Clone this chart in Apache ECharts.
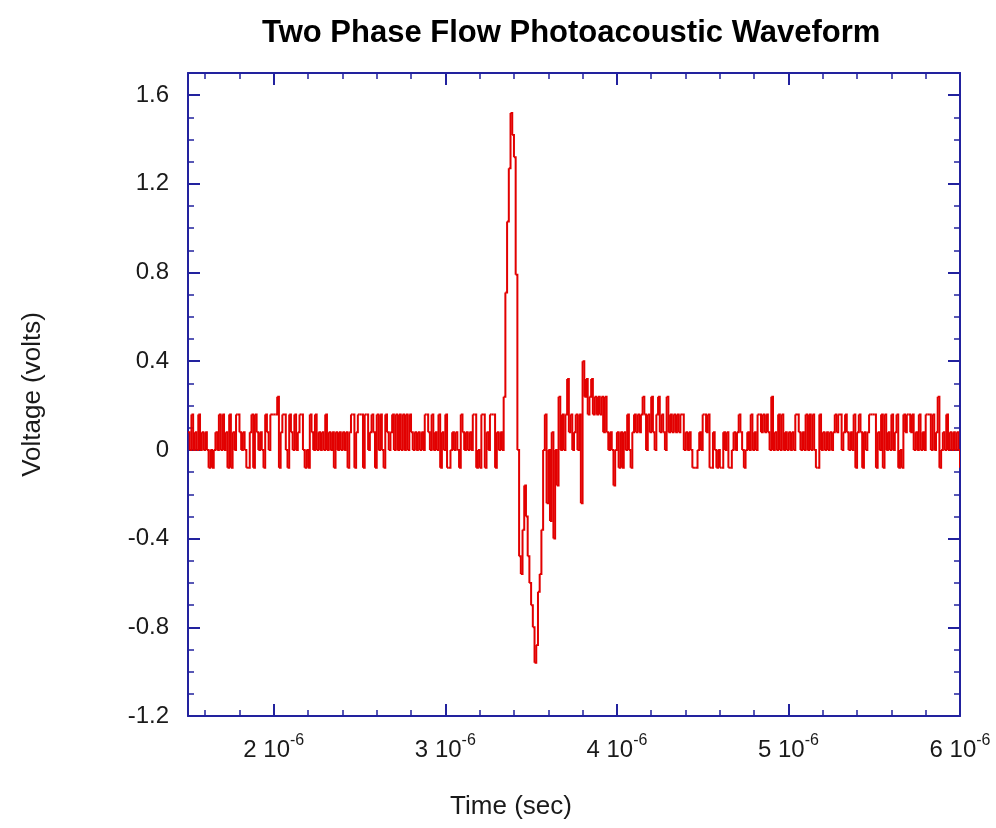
<!DOCTYPE html>
<html>
<head>
<meta charset="utf-8">
<title>Two Phase Flow Photoacoustic Waveform</title>
<script src="https://cdn.jsdelivr.net/npm/echarts@6.0.0/dist/echarts.min.js"></script>
<style>
    html, body { margin: 0; padding: 0; background: #fff; }
    #chart { width: 996px; height: 828px; }
</style>
</head>
<body>
<div id="chart"></div>
<script>
// sampling of the scope trace (one sample every 10 ns from 1.5 us)
const T_START = 1.5e-6;
const T_STEP = 1e-8;

// volts: quiet baseline before the pulse
const noiseBefore = [
    0.08, 0, 0.16, 0, 0.08, 0, 0.16, 0, 0.08, 0,
    0.08, 0, -0.08, 0, -0.08, 0, 0.08, 0, 0.16, 0,
    0.16, 0, 0.08, -0.08, 0.16, -0.08, 0.08, 0, 0.16, 0.16,
    0.08, 0, 0.08, 0, -0.08, -0.08, 0.08, 0.16, -0.08, 0.16,
    0.08, 0, 0.08, 0, -0.08, 0.16, 0.08, 0, 0.16, 0.16,
    0.16, 0.16, 0.24, -0.08, 0.08, 0.16, 0.16, 0, -0.08, 0.16,
    0.08, 0, 0.16, 0, 0.08, 0.16, 0.16, 0, -0.08, 0,
    -0.08, 0.16, 0.08, 0, 0.16, 0, 0.08, 0, 0.08, 0,
    0.16, 0, 0.08, 0, 0.08, -0.08, 0.08, 0, 0.08, 0,
    0.08, 0, 0.08, -0.08, 0.08, 0.16, 0.16, -0.08, 0.08, 0.16,
    0.16, 0.16, -0.08, 0.16, 0.16, 0, 0.08, 0.16, 0.08, -0.08,
    0.16, 0, 0.16, 0, -0.08, 0.16, 0.08, 0, 0.08, 0.16,
    0, 0.16, 0, 0.16, 0, 0.16, 0, 0.16, 0, 0.16,
    0.08, 0, 0.08, 0, 0.08, 0, 0.08, 0, 0.16, 0.16,
    0.08, 0, 0.16, 0, 0.08, 0, 0.16, -0.08, 0.08, 0,
    0.16, -0.08, -0.08, 0, 0.08, 0, 0.08, 0, -0.08, 0.16,
    0.08, 0, 0.08, 0, 0.08, 0, 0.16, 0.16, -0.08, 0,
    -0.08, 0.16, 0.16, -0.08, 0.08, 0, 0.16, 0.16, 0.16, -0.08,
    0.08, 0, 0.08, 0
];

// the photoacoustic pulse itself
const pulse = [
    0.24, 0.71, 1.03, 1.27, 1.52, 1.42, 1.32, 0.79, 0, -0.48,
    -0.56, -0.36, -0.16, -0.30, -0.48, -0.60, -0.70, -0.80, -0.96, -0.88,
    -0.64, -0.56, -0.36, 0
];

// ringing right after the pulse
const ringing = [
    0.16, -0.24, 0, -0.32, 0.08, -0.40, 0, -0.16, 0.24, 0,
    0.16, 0, 0.16, 0.32, 0.08, 0.16, 0, 0.08, 0.16, 0,
    0.16, -0.24, 0.40, 0.24, 0.32, 0.16, 0.24, 0.32, 0.16, 0.24,
    0.16, 0.24, 0.16, 0.24, 0.08, 0.24, 0.08, 0, 0.08, 0,
    -0.16, 0, 0.08, -0.08, 0.08, -0.08, 0.08, 0, 0.16, 0,
    -0.08, 0.08
];

// baseline after the pulse up to 6 us
const noiseAfter = [
    0.16, 0.08, 0.16, 0.08, 0.16, 0.24, 0.16, 0, 0.16, 0.08,
    0.24, 0.08, 0, 0.16, 0.24, 0.08, 0.16, 0.08, 0, 0.24,
    0.08, 0.16, 0.08, 0.16, 0.08, 0.16, 0.08, 0.16, 0.16, 0,
    0.08, 0, 0.08, 0, -0.08, -0.08, -0.08, 0, 0.08, 0,
    0.16, 0.16, 0.08, 0.16, -0.08, -0.08, 0.08, 0, -0.08, 0,
    -0.08, -0.08, 0.08, 0, 0.08, -0.08, -0.08, 0, 0.08, 0,
    0.08, 0.16, 0.08, 0, -0.08, 0, 0.08, 0, 0.16, 0,
    0.08, 0, 0.16, 0.16, 0.08, 0.16, 0.08, 0.16, 0.08, 0,
    0.24, 0, 0.08, 0, 0.16, 0, 0.16, 0, 0.08, 0,
    0.08, 0, 0.08, 0, 0.16, 0.16, 0.08, 0, 0.08, 0,
    0.16, 0, 0.16, 0, 0.16, 0, -0.08, -0.08, 0.16, 0,
    0.08, 0, 0.08, 0, 0.08, 0, 0.08, 0.16, 0.08, 0.16,
    0.16, 0, 0.08, 0.16, 0.08, 0, 0.08, 0, 0.16, -0.08,
    0.08, 0.16, 0.08, -0.08, 0.08, 0, 0.08, 0.16, 0.16, 0.16,
    0.16, -0.08, 0.08, 0, 0.16, -0.08, 0.16, 0, 0.08, 0,
    0.16, 0, 0.08, 0.16, -0.08, 0, -0.08, 0.16, 0.08, 0.16,
    0.16, 0.08, 0.16, 0, 0.08, 0, 0.16, 0, 0.08, 0,
    0.16, 0.16, 0.16, 0, 0.16, 0, 0.08, 0.24, -0.08, 0,
    0.08, 0, 0.16, 0, 0.08, 0, 0.08, 0, 0.08, 0,
    -0.08
];

// axis ranges
const xRange = [1.5e-6, 6e-6];
const yRange = [-1.2, 1.7];
const yStep = 0.4;

const font = 'Liberation Sans, Arial, sans-serif';
const frameBlue = '#22229e';
const inkColor = '#1a1a1a';
const traceRed = '#e20000';

const volts = noiseBefore.concat(pulse, ringing, noiseAfter);

// one row per step of the trace: [t, v, next t, next v]
// (the line series drops sub-2px segments, so the steps are drawn via a custom series)
const steps = [];
for (let i = 0; i < volts.length - 1; i++) {
    steps.push([T_START + i * T_STEP, volts[i], T_START + (i + 1) * T_STEP, volts[i + 1]]);
}

const chart = echarts.init(document.getElementById('chart'));

const tickLine = { color: frameBlue, width: 2 };
const frameX = {
    type: 'value',
    min: xRange[0],
    max: xRange[1],
    axisLine: { onZero: false, lineStyle: { color: frameBlue, width: 2 } },
    axisTick: { inside: true, length: 12, lineStyle: tickLine },
    minorTick: { show: true, splitNumber: 5, length: 6, lineStyle: { color: frameBlue, width: 1.5 } },
    splitLine: { show: false }
};
const frameY = {
    type: 'value',
    min: yRange[0],
    max: yRange[1],
    interval: yStep,
    axisLine: { onZero: false, lineStyle: { color: frameBlue, width: 2 } },
    axisTick: { inside: true, length: 12, lineStyle: tickLine },
    minorTick: { show: true, splitNumber: 4, length: 6, lineStyle: { color: frameBlue, width: 1.5 } },
    splitLine: { show: false }
};

function renderStep(params, api) {
    const a = api.coord([api.value(0), api.value(1)]);
    const b = api.coord([api.value(2), api.value(3)]);
    return {
        type: 'polyline',
        shape: { points: [a, [b[0], a[1]], b] },
        style: { stroke: traceRed, lineWidth: 2, fill: null }
    };
}

const option = {
    animation: false,
    backgroundColor: '#ffffff',
    title: {
        text: 'Two Phase Flow Photoacoustic Waveform',
        left: 262,
        top: 18,
        padding: 0,
        textStyle: { fontFamily: font, fontWeight: 'bold', fontSize: 31, color: '#000' }
    },
    grid: { left: 188, right: 36, top: 73, bottom: 112 },
    xAxis: [
        Object.assign({}, frameX, {
            position: 'bottom',
            name: 'Time (sec)',
            nameLocation: 'middle',
            nameGap: 78,
            nameTextStyle: { fontFamily: font, fontSize: 26, color: inkColor, padding: [0, 126, 0, 0] },
            axisLabel: {
                showMinLabel: false,
                margin: 17,
                formatter: function (v) {
                    return '{n|' + Math.round(v * 1e6) + ' 10}{e|-6}';
                },
                rich: {
                    n: { fontFamily: font, fontSize: 24, lineHeight: 34, color: inkColor },
                    e: { fontFamily: font, fontSize: 16, color: inkColor, verticalAlign: 'top' }
                }
            }
        }),
        Object.assign({}, frameX, { position: 'top', axisLabel: { show: false } })
    ],
    yAxis: [
        Object.assign({}, frameY, {
            position: 'left',
            name: 'Voltage (volts)',
            nameLocation: 'middle',
            nameGap: 142,
            nameTextStyle: { fontFamily: font, fontSize: 26, color: inkColor },
            axisLabel: {
                showMaxLabel: false,
                margin: 19,
                fontFamily: font,
                fontSize: 24,
                color: inkColor
            }
        }),
        Object.assign({}, frameY, { position: 'right', axisLabel: { show: false } })
    ],
    series: [
        {
            name: 'waveform',
            type: 'custom',
            xAxisIndex: 0,
            yAxisIndex: 0,
            clip: true,
            encode: { x: [0, 2], y: [1, 3] },
            renderItem: renderStep,
            data: steps
        }
    ]
};

chart.setOption(option);
</script>
</body>
</html>
